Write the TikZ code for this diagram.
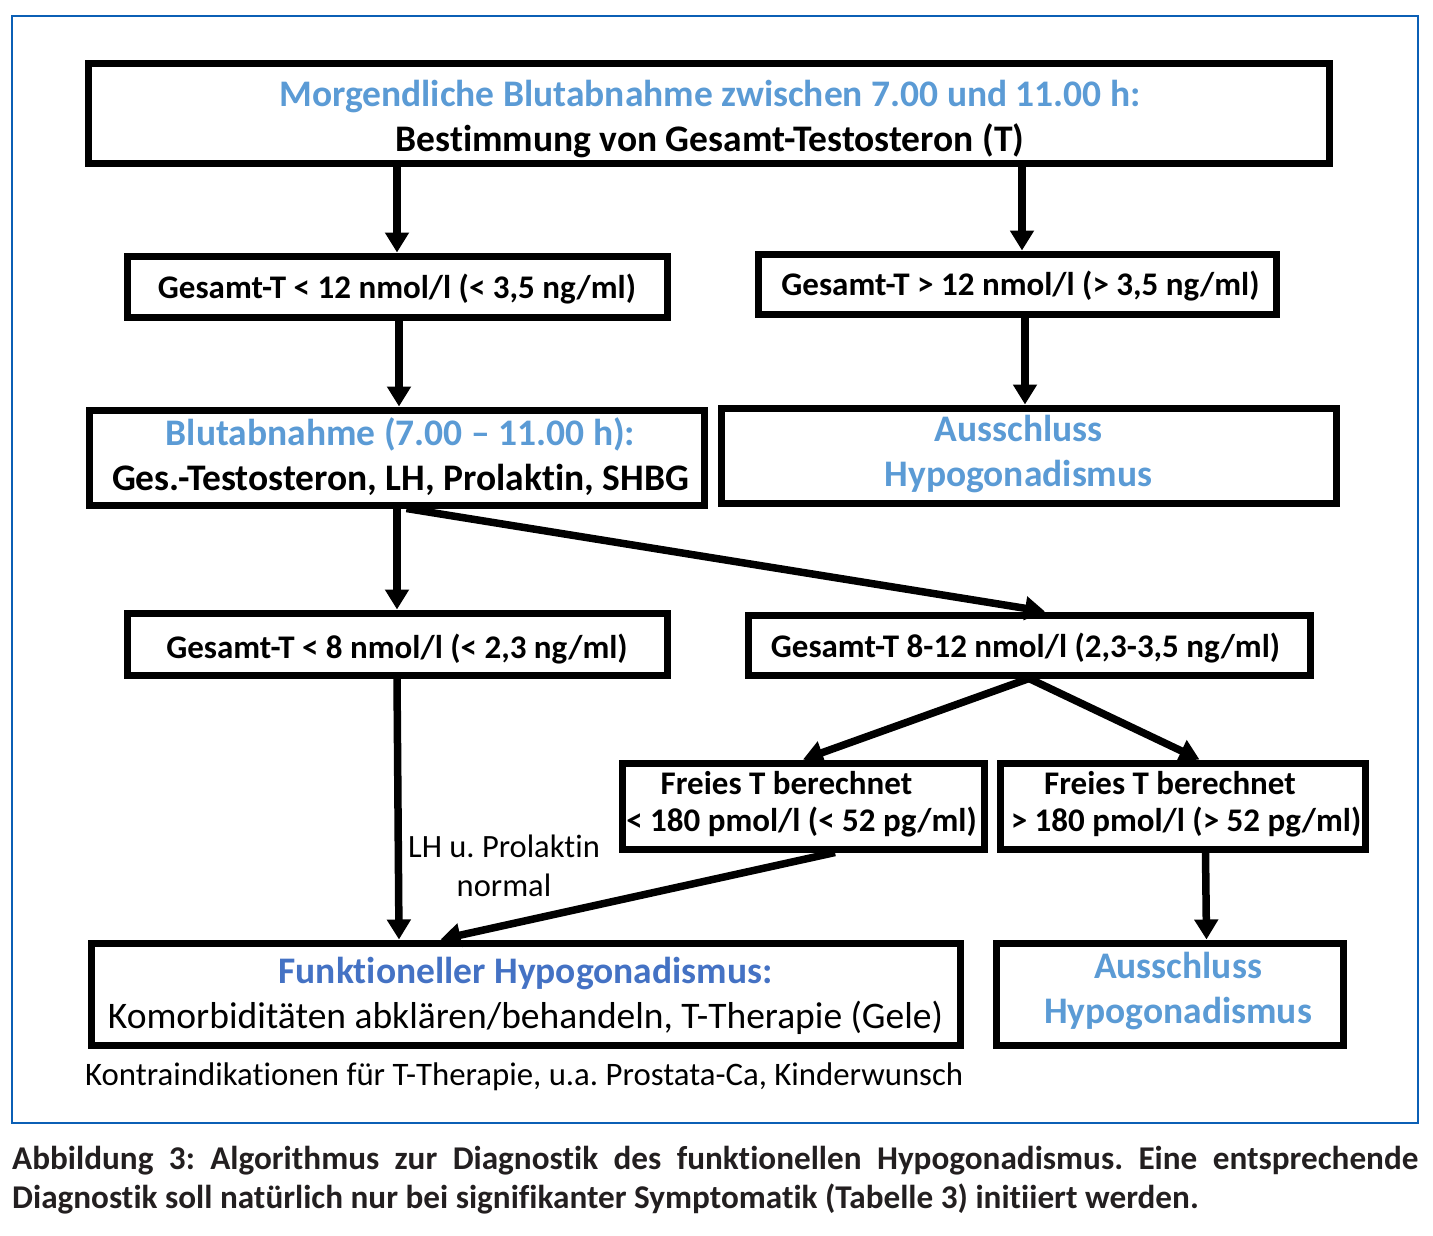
\documentclass[tikz,border=0pt]{standalone}
\usepackage{fontspec}
\setmainfont{Carlito}[Ligatures=NoCommon]
\usetikzlibrary{arrows.meta}
\definecolor{lblue}{HTML}{5B9BD5}
\definecolor{dblue}{HTML}{4472C4}
\definecolor{frameblue}{HTML}{0B5FB5}
\definecolor{capcol}{HTML}{231F20}
\frenchspacing
\begin{document}
\begin{tikzpicture}[x=1pt,y=-1pt,
  box/.style={draw=black, line width=7pt, rectangle, inner sep=0pt},
  big/.style={align=center, inner sep=0pt, font=\fontsize{37.5}{45}\selectfont\bfseries},
  mid/.style={align=center, inner sep=0pt, font=\fontsize{33}{37}\selectfont\bfseries},
  arr/.style={line width=7.5pt, -{Triangle[length=20pt,width=23pt]}}]
\useasboundingbox (0,0) rectangle (1433,1235);
\fill[white] (0,0) rectangle (1433,1235);
\draw[frameblue, line width=2.5pt] (12,16) rectangle (1418,1123);

% boxes
\node[box, minimum width=1241pt, minimum height=100pt] (b1) at (708.5,113) {};
\node[box, minimum width=540pt, minimum height=61pt] (b2l) at (397,286.5) {};
\node[box, minimum width=518pt, minimum height=60pt] (b2r) at (1017,284) {};
\node[box, minimum width=615pt, minimum height=95pt] (b3l) at (396.5,457.5) {};
\node[box, minimum width=615pt, minimum height=95pt] (b3r) at (1028.5,455.5) {};
\node[box, minimum width=540pt, minimum height=62pt] (b4l) at (397,644) {};
\node[box, minimum width=562pt, minimum height=60pt] (b4r) at (1029,645) {};
\node[box, minimum width=362pt, minimum height=86pt] (b5l) at (803,806) {};
\node[box, minimum width=365pt, minimum height=86pt] (b5r) at (1182.5,806) {};
\node[box, minimum width=869pt, minimum height=102pt] (b6l) at (525.5,994) {};
\node[box, minimum width=347pt, minimum height=102pt] (b6r) at (1169.5,994) {};

% texts
\node[big] (t1) at ([shift={(1.5,6.5)}]b1.center)
  {\textcolor{lblue}{Morgendliche Blutabnahme zwischen 7.00 und 11.00 h:}\\Bestimmung von Gesamt-Testosteron (T)};
\node[mid] (t2l) at ([shift={(0,3)}]b2l.center) {Gesamt-T < 12 nmol/l (< 3,5 ng/ml)};
\node[mid] (t2r) at ([shift={(3.5,2)}]b2r.center) {Gesamt-T > 12 nmol/l (> 3,5 ng/ml)};
\node[big] (t3l) at ([shift={(4,-1)}]b3l.center)
  {\textcolor{lblue}{Blutabnahme (7.00 – 11.00 h):}\\Ges.-Testosteron, LH, Prolaktin, SHBG};
\node[big] (t3r) at ([shift={(-10,-1)}]b3r.center)
  {\textcolor{lblue}{Ausschluss}\\\textcolor{lblue}{Hypogonadismus}};
\node[mid] (t4l) at ([shift={(0,5)}]b4l.center) {Gesamt-T < 8 nmol/l (< 2,3 ng/ml)};
\node[mid] (t4r) at ([shift={(-3.5,3)}]b4r.center) {Gesamt-T 8-12 nmol/l (2,3-3,5 ng/ml)};
\node[mid] (t5l) at ([shift={(-1.5,-2)}]b5l.center)
  {Freies T berechnet\hspace*{30pt}\\< 180 pmol/l (< 52 pg/ml)};
\node[mid] (t5r) at ([shift={(3.5,-2)}]b5r.center)
  {Freies T berechnet\hspace*{32pt}\\> 180 pmol/l (> 52 pg/ml)};
\node[big] (t6l) at ([shift={(0,2)}]b6l.center)
  {\textcolor{dblue}{Funktioneller Hypogonadismus:}\\\mdseries Komorbiditäten abklären/behandeln, T-Therapie (Gele)};
\node[big] (t6r) at ([shift={(8.5,-3)}]b6r.center)
  {\textcolor{lblue}{Ausschluss}\\\textcolor{lblue}{Hypogonadismus}};

\node[align=center, inner sep=0pt, font=\fontsize{32.5}{39}\selectfont] (lab) at (504,866)
  {LH u. Prolaktin\\normal};
\node[anchor=west, inner sep=0pt, font=\fontsize{32.8}{36}\selectfont] (note) at (85,1077)
  {Kontraindikationen für T-Therapie, u.a. Prostata-Ca, Kinderwunsch};
\node[anchor=north west, inner sep=0pt, text width=1406pt, align=justify, text=capcol,
  font=\fontsize{33.2}{39}\selectfont\bfseries] (cap) at (12,1146)
  {Abbildung 3: Algorithmus zur Diagnostik des funktionellen Hypogonadismus. Eine entsprechende\linebreak Diagnostik soll natürlich nur bei signifikanter Symptomatik (Tabelle 3) initiiert werden.};

% connectors
\draw[arr] (b1.south -| b2l.north) -- (b2l.north);
\draw[arr] ([xshift=5pt]b1.south -| b2r.north) -- ([xshift=5pt]b2r.north);
\draw[arr] ([xshift=2pt]b2l.south) -- ([xshift=2pt]b3l.north -| b2l.south);
\draw[arr] ([xshift=8pt]b2r.south) -- ([xshift=8pt]b3r.north -| b2r.south);
\draw[arr] (b3l.south -| b4l.north) -- (b4l.north);
\draw[arr] ([xshift=10pt]b3l.south) -- ([xshift=16pt]b4r.north);
\draw[arr] (b4r.south) -- (b5l.north);
\draw[arr] (b4r.south) -- ([xshift=17pt]b5r.north);
\draw[arr] (b4l.south) -- ([xshift=-126.5pt]b6l.north);
\draw[arr] ([xshift=32pt]b5l.south) -- ([xshift=-85pt]b6l.north);
\draw[arr] ([xshift=23pt]b5r.south) -- ([xshift=37pt]b6r.north);
\end{tikzpicture}
\end{document}
